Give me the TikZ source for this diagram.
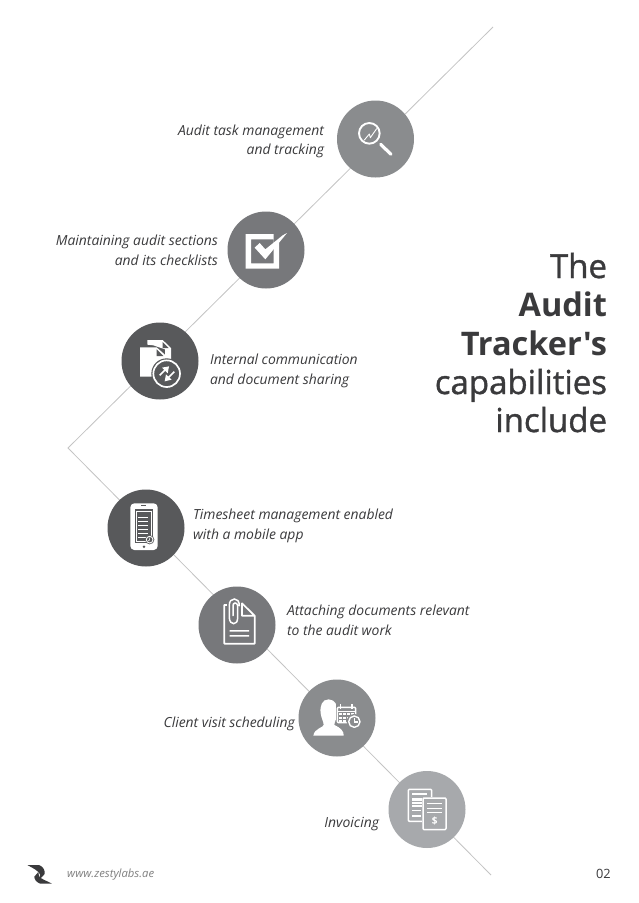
\documentclass[tikz,border=0pt]{standalone}
\usepackage{fontspec}
\setmainfont{Open Sans}
\newfontfamily\titlereg[FakeBold=1.2]{Open Sans}
\newfontfamily\titleb{Open Sans}
\definecolor{tone1}{HTML}{8A8C8E}
\definecolor{tone2}{HTML}{77787B}
\definecolor{tone3}{HTML}{58595B}
\definecolor{tone4}{HTML}{A7A9AC}
\definecolor{linegray}{HTML}{C4C4C4}
\definecolor{inkc}{HTML}{3A3A3C}
\tikzset{
  x=1pt,y=-1pt,
  disc/.style={circle,minimum size=77pt,inner sep=0pt,outer sep=0pt,fill=#1},
  lab/.style={font=\fontsize{13.9}{19.5}\selectfont\itshape,text=inkc,inner sep=0pt,outer sep=0pt},
  titleline/.style={font=\titlereg\fontsize{33}{38}\selectfont,text=inkc,inner sep=0pt,outer sep=0pt,anchor=base east},
  titlebold/.style={titleline,font=\titleb\fontsize{32.5}{38}\selectfont\bfseries},
  rail/.style={draw=linegray,line width=0.8pt},
  ico/.style={draw=white,line width=1.7pt,line join=round,line cap=round},
}
\begin{document}
\begin{tikzpicture}
\useasboundingbox (0,0) rectangle (638,903);
\fill[white] (0,0) rectangle (638,903);
\coordinate (railtop) at (493,27);
\coordinate (railbend) at (68,448);
\coordinate (railend) at (491,875);
\draw[rail] (railtop) -- (railbend) -- (railend);

\node[disc=tone1] (c1) at (375.5,139) {};
\node[disc=tone2] (c2) at (266,250) {};
\node[disc=tone3] (c3) at (160,361) {};
\node[disc=tone3] (c4) at (146,528) {};
\node[disc=tone2] (c5) at (237,625) {};
\node[disc=tone1] (c6) at (337,718) {};
\node[disc=tone4] (c7) at (427,809.5) {};

% icon 1: magnifier
\begin{scope}[shift={(320,90)},scale=1/3]
  \draw[ico,line width=1.9pt] (148,130) circle (31);
  \draw[ico,line width=3.2pt] (182,163) -- (213,193);
  \draw[ico,line width=0.9pt] (133,150) -- (148,132) -- (151,143) -- (170,116);
\end{scope}

% icon 2: checkbox
\begin{scope}[shift={(215,200)},scale=1/3]
  \fill[white,even odd rule] (92,102) rectangle (192,206) (108,118) rectangle (176,190);
  \fill[tone2] (176,100) -- (200,100) -- (200,118) -- (176,140) -- cycle;
  \fill[white] (119,143) -- (134,129) -- (151,148) -- (203,106) -- (216,99) -- (151,178) -- cycle;
\end{scope}

% icon 3: documents with arrows
\begin{scope}[shift={(110,312)},scale=1/3]
  \fill[white] (112,84) -- (158,84) -- (183,108) -- (183,165) -- (165,165) -- (165,112) -- (130,100) -- (112,98) -- cycle;
  \fill[tone3] (158,90) -- (158,108) -- (176,108) -- cycle;
  \fill[white] (90,106) -- (140,106) -- (167,130) -- (167,160) -- (135,165) -- (125,194) -- (90,194) -- cycle;
  \fill[tone3] (140,112) -- (140,132) -- (160,132) -- cycle;
  \fill[tone3] (170,185) circle (46);
  \draw[ico] (170,185) circle (40);
  \fill[white] (156,167) -- (177,163) -- (173,184) -- cycle;
  \fill[white] (185,203) -- (164,208) -- (168,187) -- cycle;
  \draw[white,line width=1.7pt] (149,190) -- (168,171) (193,179) -- (173,199);
\end{scope}

% icon 4: phone
\begin{scope}[shift={(95,480)},scale=1/3]
  \fill[white,rounded corners=4pt] (106,70) rectangle (188,210);
  \fill[tone3] (120,88) rectangle (174,190);
  \fill[tone3] (138,75) rectangle (152,78);
  \fill[tone3] (147,200) circle (4);
  \draw[white,line width=0.8pt] (125,93) rectangle (169,183);
  \foreach \yy in {113,125,137,149,161,173}{
    \draw[white,line width=0.8pt] (130,\yy) -- (160,\yy);
    }
  \fill[tone3] (164,179) circle (14);
  \draw[white,line width=0.9pt] (164,179) circle (10);
  \draw[white,line width=0.6pt] (164,179) -- (164,173) (164,179) -- (160,183);
\end{scope}

% icon 5: clipped document
\begin{scope}[shift={(187,575)},scale=1/3]
  \draw[ico] (165,90) -- (112,90) -- (112,206) -- (203,206) -- (203,122) -- (165,85) -- (165,122) -- (203,122);
  \fill[white] (128,165) rectangle (186,170) (128,180) rectangle (186,185);
  \fill[tone2] (120,82) rectangle (162,100);
  \draw[white,line width=1.5pt,line cap=round] (157,92) .. controls (157,78) and (150,72) .. (142,72) .. controls (133,72) and (127,79) .. (127,90) -- (127,128) .. controls (127,140) and (134,146) .. (140,146) .. controls (147,146) and (152,140) .. (152,128) -- (152,92) .. controls (152,86) and (147,84) .. (144,84) .. controls (140,84) and (138,88) .. (138,92) -- (138,122);
\end{scope}

% icon 6: person with calendar
\begin{scope}[shift={(287,670)},scale=1/3]
  \fill[white] (125,88) .. controls (105,88) and (98,108) .. (101,130) .. controls (103,145) and (110,155) .. (110,165) .. controls (110,172) and (82,175) .. (79,197) -- (170,197) .. controls (172,185) and (160,172) .. (142,165) .. controls (142,155) and (150,145) .. (152,130) .. controls (155,110) and (145,88) .. (125,88) -- cycle;
  \fill[tone1] (146,100) rectangle (210,165);
  \draw[ico,line width=1.4pt,rounded corners=1pt] (151,112) rectangle (206,158);
  \draw[white,line width=1.6pt] (160,102) -- (160,118) (195,102) -- (195,118) (151,125) -- (206,125);
  \foreach \xx in {160,172,184,196}{\foreach \yy in {133,143,152}{
    \fill[white] (\xx-4,\yy-3) rectangle (\xx+4,\yy+3);}}
  \fill[tone1] (202,155) circle (23);
  \draw[ico,line width=1.4pt] (202,155) circle (17);
  \draw[white,line width=1.1pt] (202,145) -- (202,156) -- (212,156);
\end{scope}

% icon 7: invoices
\begin{scope}[shift={(395,760)},scale=1/3]
  \draw[ico,line width=1.5pt,rounded corners=1pt] (40,88) rectangle (110,184);
  \draw[white,line width=1.3pt] (52,102) -- (97,102);
  \fill[white] (52,115) rectangle (90,142);
  \foreach \yy in {123,133}{\fill[tone4] (52,\yy) rectangle (90,\yy+2);}
  \draw[white,line width=1.3pt] (52,152) -- (78,152) (52,168) -- (78,168);
  \fill[tone4] (80,110) rectangle (156,212);
  \draw[ico,line width=1.5pt,rounded corners=1pt] (84,114) rectangle (153,209);
  \draw[white,line width=1.3pt] (97,131) -- (141,131) (97,145) -- (141,145) (97,158) -- (141,158);
  \node[font=\bfseries\fontsize{10}{10}\selectfont,text=white,inner sep=0pt] (dollar) at (119,184) {\$};
\end{scope}

% labels
\node[lab,align=right,anchor=east] (l1) at (324,141.5) {Audit task management\\and tracking};
\node[lab,align=right,anchor=east] (l2) at (218,250.5) {Maintaining audit sections\\and its checklists};
\node[lab,align=left,anchor=west] (l3) at (210,371) {Internal communication\\and document sharing};
\node[lab,align=left,anchor=west] (l4) at (193,526) {Timesheet management enabled\\with a mobile app};
\node[lab,align=left,anchor=west] (l5) at (287,620.5) {Attaching documents relevant\\to the audit work};
\node[lab,anchor=east] (l6) at (295,723.5) {Client visit scheduling};
\node[lab,anchor=east] (l7) at (379,824.5) {Invoicing};

% title
\node[titleline] (t1) at (607,278) {The};
\node[titlebold] (t2) at (607,316) {Audit};
\node[titlebold] (t3) at (607,355) {Tracker's};
\node[titleline] (t4) at (607,394) {capabilities};
\node[titleline] (t5) at (607,432) {include};

% footer
\begin{scope}[shift={(15,850)},scale=1/3]
  \fill[inkc] (37,45) -- (72,45) .. controls (85,50) and (90,60) .. (89,72) -- (74,88) -- (75,73) .. controls (70,62) and (55,55) .. (37,45) -- cycle;
  \fill[inkc] (111,101) -- (76,101) .. controls (64,97) and (58,88) .. (58,80) -- (70,66) -- (72,78) .. controls (78,88) and (95,92) .. (111,101) -- cycle;
\end{scope}
\node[inner sep=0pt,anchor=west,font=\fontsize{11.3}{14}\selectfont\itshape,text=gray] (web) at (67,874.5) {www.zestylabs.ae};
\node[inner sep=0pt,anchor=east,font=\fontsize{12.8}{14}\selectfont,text=inkc] (pg) at (611,874) {02};
\end{tikzpicture}
\end{document}
